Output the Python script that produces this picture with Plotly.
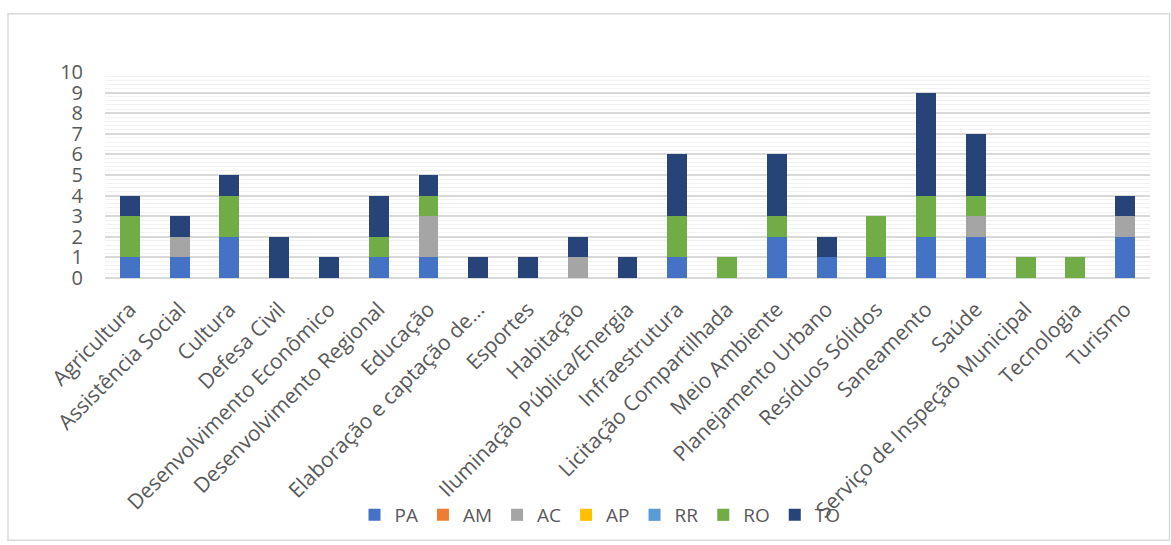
import plotly.graph_objects as go

categories = [
    "Agricultura", "Assistência Social", "Cultura", "Defesa Civil",
    "Desenvolvimento Econômico", "Desenvolvimento Regional", "Educação",
    "Elaboração e captação de...", "Esportes", "Habitação",
    "Iluminação Pública/Energia", "Infraestrutura", "Licitação Compartilhada",
    "Meio Ambiente", "Planejamento Urbano", "Resíduos Sólidos", "Saneamento",
    "Saúde", "Serviço de Inspeção Municipal", "Tecnologia", "Turismo",
]

pa = [1, 1, 2, 0, 0, 1, 1, 0, 0, 0, 0, 1, 0, 2, 1, 1, 2, 2, 0, 0, 2]
am = [0] * 21
ac = [0, 1, 0, 0, 0, 0, 2, 0, 0, 1, 0, 0, 0, 0, 0, 0, 0, 1, 0, 0, 1]
ap = [0] * 21
rr = [0] * 21
ro = [2, 0, 2, 0, 0, 1, 1, 0, 0, 0, 0, 2, 1, 1, 0, 2, 2, 1, 1, 1, 0]
to = [1, 1, 1, 2, 1, 2, 1, 1, 1, 1, 1, 3, 0, 3, 1, 0, 5, 3, 0, 0, 1]

series = [
    ("PA", pa, "#4472C4"),
    ("AM", am, "#ED7D31"),
    ("AC", ac, "#A5A5A5"),
    ("AP", ap, "#FFC000"),
    ("RR", rr, "#5B9BD5"),
    ("RO", ro, "#70AD47"),
    ("TO", to, "#264478"),
]

W, H = 1171, 545
L, R, T, B = 105, 21, 71.7, 265.7
pw, ph = W - L - R, H - T - B

fig = go.Figure()
for name, vals, color in series:
    fig.add_trace(go.Bar(
        x=categories, y=vals, name=name,
        marker=dict(color=color, line=dict(width=0)),
    ))

font = "Open Sans, Calibri, sans-serif"
fig.update_layout(
    width=W, height=H,
    barmode="stack", bargap=0.6,
    margin=dict(l=L, r=R, t=T, b=B, pad=0),
    paper_bgcolor="white", plot_bgcolor="white",
    font=dict(family=font, color="#595959"),
    legend=dict(
        orientation="h", x=(600 - L) / pw, xanchor="center",
        y=(H - B - 516) / ph, yanchor="middle",
        font=dict(size=19, color="#595959"),
        itemwidth=30, traceorder="normal",
        bgcolor="rgba(0,0,0,0)",
    ),
    xaxis=dict(
        tickangle=-45, tickfont=dict(size=21, color="#595959"),
        showgrid=False, showline=False, ticks="", automargin=False,
        ticklabelstandoff=14,
    ),
    yaxis=dict(
        range=[0, 10], dtick=1, tickfont=dict(size=20, color="#595959"),
        showgrid=True, gridcolor="#d9d9d9", gridwidth=1.5,
        zeroline=True, zerolinecolor="#d9d9d9", zerolinewidth=1.5,
        showline=False, ticks="", automargin=False, ticklabelstandoff=21,
        minor=dict(dtick=0.2, showgrid=True, gridcolor="#f2f2f2", gridwidth=1),
    ),
    shapes=[dict(
        type="rect", xref="paper", yref="paper",
        x0=(8 - L) / pw, x1=(1169.5 - L) / pw,
        y0=(H - B - 543.5) / ph, y1=(H - B - 13) / ph,
        line=dict(color="#d9d9d9", width=1.5), layer="below",
    )],
)

fig.write_html("out.html")
